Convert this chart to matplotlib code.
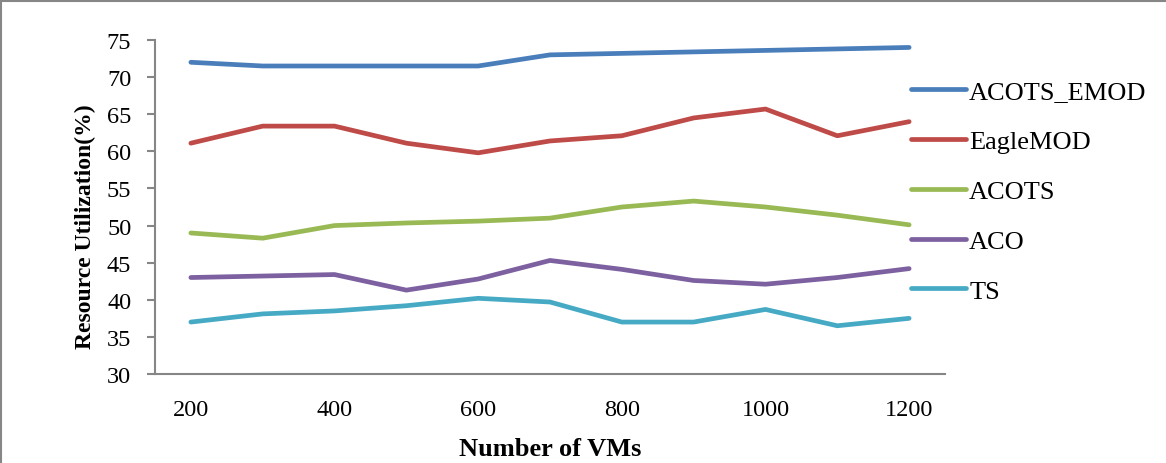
import matplotlib.pyplot as plt
import numpy as np
from matplotlib.lines import Line2D

plt.rcParams['font.family'] = ['Liberation Serif', 'DejaVu Serif']

# Data
vms = [200, 300, 400, 500, 600, 700, 800, 900, 1000, 1100, 1200]
acots_emod = [72.0, 71.5, 71.5, 71.5, 71.5, 73.0, 73.2, 73.4, 73.6, 73.8, 74.0]
eaglemod = [61.1, 63.4, 63.4, 61.1, 59.8, 61.4, 62.1, 64.5, 65.7, 62.1, 64.0]
acots = [49.0, 48.3, 50.0, 50.35, 50.6, 51.0, 52.5, 53.3, 52.5, 51.4, 50.1]
aco = [43.0, 43.2, 43.4, 41.3, 42.8, 45.3, 44.1, 42.6, 42.1, 43.0, 44.2]
ts = [37.0, 38.1, 38.5, 39.2, 40.2, 39.7, 37.0, 37.0, 38.7, 36.5, 37.5]

series = [
    ("ACOTS_EMOD", acots_emod, "#4A7EBB"),
    ("EagleMOD", eaglemod, "#BE4B48"),
    ("ACOTS", acots, "#98B954"),
    ("ACO", aco, "#7D60A0"),
    ("TS", ts, "#46AAC5"),
]

fig = plt.figure(figsize=(11.66, 4.64), dpi=100)
ax = fig.add_axes([0.1329, 0.1918, 0.6776, 0.7198])

x = np.arange(len(vms))
for name, vals, col in series:
    ax.plot(x, vals, color=col, lw=3.4, label=name, solid_capstyle='round')

ax.set_xlim(-0.5, len(vms) - 0.5)
ax.set_ylim(30, 75)
ax.set_yticks(np.arange(30, 76, 5))
ax.set_xticks(x[::2])
ax.set_xticklabels([str(v) for v in vms[::2]])

for s in ['top', 'right']:
    ax.spines[s].set_visible(False)
for s in ['left', 'bottom']:
    ax.spines[s].set_color('#868686')
    ax.spines[s].set_linewidth(1.5)

ax.tick_params(axis='y', length=6, width=1.5, color='#868686', labelsize=17.5, pad=11)
ax.tick_params(axis='x', length=0, labelsize=17.5, pad=18)

ax.set_xlabel("Number of VMs", fontsize=19, fontweight='bold', labelpad=12)
ax.set_ylabel("Resource Utilization(%)", fontsize=17, fontweight='bold')
ax.yaxis.set_label_coords(-0.074, 0.443)

fig.legend(loc='upper left', bbox_to_anchor=(0.781, 0.826), frameon=False,
           borderaxespad=0, borderpad=0,
           fontsize=19, handlelength=2.1, handletextpad=0.12, labelspacing=1.0)

# border lines along the top and left edge of the image
fig.add_artist(Line2D([0.001, 1.0], [0.996, 0.996], transform=fig.transFigure,
                      color='#868686', lw=1.5))
fig.add_artist(Line2D([0.001, 0.001], [0.0, 0.996], transform=fig.transFigure,
                      color='#868686', lw=1.5))

fig.savefig("out.png", dpi=100)
